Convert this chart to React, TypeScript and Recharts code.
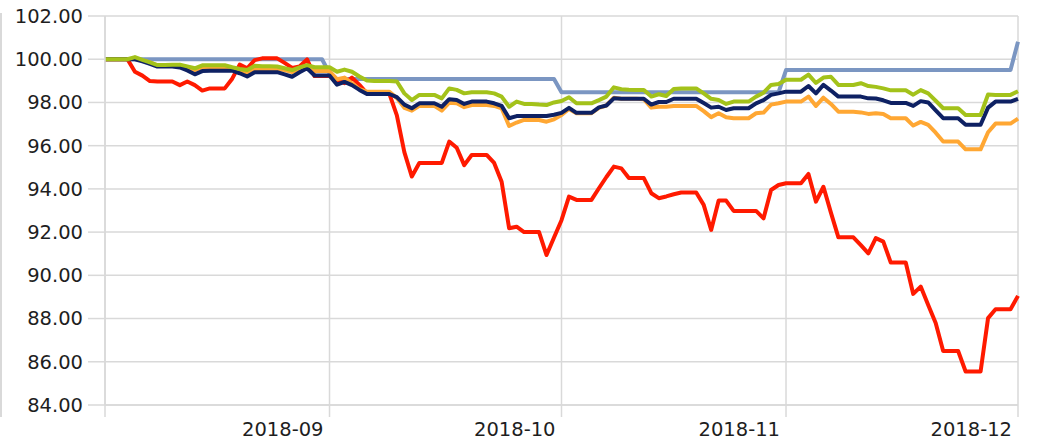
import React from 'react';
import { LineChart, Line, XAxis, YAxis, CartesianGrid } from 'recharts';

const dayIndex: number[] = Array.from({ length: 123 }, (_, i) => i);

const seriesRed = [
  100.0, 100.0, 100.0, 100.0, 99.42, 99.24, 98.99, 98.97, 98.97, 98.97,
  98.8, 98.97, 98.8, 98.55, 98.65, 98.65, 98.65, 99.1, 99.75, 99.58,
  99.96, 100.04, 100.04, 100.04, 99.83, 99.6, 99.66, 99.99, 99.22, 99.22,
  99.22, 99.04, 98.89, 99.15, 98.81, 98.42, 98.42, 98.42, 98.4, 97.4,
  95.7, 94.57, 95.2, 95.2, 95.2, 95.2, 96.19, 95.9, 95.1, 95.57,
  95.57, 95.57, 95.2, 94.33, 92.18, 92.25, 92.0, 92.0, 92.0, 90.94,
  91.75, 92.55, 93.64, 93.49, 93.49, 93.49, 94.03, 94.55, 95.03, 94.95,
  94.5, 94.5, 94.5, 93.8, 93.57, 93.65, 93.75, 93.83, 93.83, 93.83,
  93.26, 92.1, 93.46, 93.46, 92.98, 92.98, 92.98, 92.98, 92.64, 93.95,
  94.18, 94.26, 94.26, 94.26, 94.69, 93.41, 94.1, 92.9, 91.76, 91.76,
  91.76, 91.4, 91.02, 91.72, 91.56, 90.59, 90.59, 90.59, 89.14, 89.48,
  88.63, 87.79, 86.5, 86.5, 86.5, 85.55, 85.55, 85.55, 88.02, 88.43,
  88.43, 88.43, 89.05,
];

const seriesGreen = [
  100.0, 100.0, 100.0, 100.0, 100.1, 99.97, 99.85, 99.73, 99.73, 99.74,
  99.75, 99.67, 99.58, 99.72, 99.72, 99.72, 99.72, 99.63, 99.55, 99.5,
  99.7, 99.68, 99.67, 99.66, 99.58, 99.5, 99.62, 99.73, 99.63, 99.63,
  99.63, 99.42, 99.52, 99.42, 99.2, 99.02, 98.99, 98.99, 98.99, 98.97,
  98.42, 98.11, 98.35, 98.35, 98.35, 98.19, 98.65, 98.58, 98.42, 98.47,
  98.47, 98.47, 98.42, 98.27, 97.8, 98.04, 97.93, 97.93, 97.9, 97.88,
  98.0, 98.07, 98.24, 97.96, 97.96, 97.96, 98.11, 98.27, 98.7, 98.61,
  98.59, 98.58, 98.58, 98.27, 98.38, 98.3, 98.62, 98.65, 98.65, 98.65,
  98.42, 98.17, 98.11, 97.93, 98.04, 98.04, 98.04, 98.27, 98.45, 98.81,
  98.85, 99.05, 99.05, 99.05, 99.29, 98.9, 99.15, 99.19, 98.81, 98.81,
  98.81, 98.89, 98.76, 98.72, 98.65, 98.56, 98.56, 98.56, 98.36, 98.57,
  98.42, 98.08, 97.73, 97.73, 97.73, 97.42, 97.42, 97.42, 98.37, 98.35,
  98.35, 98.35, 98.52,
];

const seriesNavy = [
  100.0, 100.0, 100.0, 100.0, 100.0, 99.9, 99.78, 99.66, 99.66, 99.66,
  99.62, 99.48, 99.3, 99.45, 99.47, 99.47, 99.47, 99.47, 99.35, 99.2,
  99.4, 99.4, 99.4, 99.4, 99.3, 99.19, 99.4, 99.58, 99.25, 99.25,
  99.25, 98.82, 98.95, 98.8, 98.58, 98.39, 98.39, 98.39, 98.39, 98.25,
  97.9, 97.73, 97.96, 97.96, 97.96, 97.8, 98.15, 98.11, 97.93, 98.04,
  98.04, 98.04, 97.96, 97.84, 97.27, 97.37, 97.37, 97.37, 97.37, 97.37,
  97.43, 97.52, 97.75, 97.52, 97.52, 97.52, 97.77, 97.86, 98.19, 98.17,
  98.17, 98.17, 98.17, 97.9, 98.02, 98.02, 98.17, 98.17, 98.17, 98.17,
  97.97, 97.76, 97.8, 97.65, 97.73, 97.73, 97.73, 97.96, 98.11, 98.35,
  98.42, 98.5, 98.5, 98.5, 98.76, 98.42, 98.81, 98.55, 98.27, 98.27,
  98.27, 98.27, 98.19, 98.18, 98.1, 97.98, 97.98, 97.98, 97.84, 98.06,
  98.0, 97.63, 97.27, 97.27, 97.27, 96.97, 96.97, 96.97, 97.76, 98.04,
  98.04, 98.04, 98.17,
];

const seriesOrange = [
  100.0, 100.0, 100.0, 100.0, 100.02, 99.95, 99.85, 99.72, 99.72, 99.72,
  99.7, 99.6, 99.5, 99.62, 99.63, 99.63, 99.63, 99.6, 99.5, 99.38,
  99.55, 99.55, 99.55, 99.55, 99.5, 99.4, 99.55, 99.66, 99.45, 99.45,
  99.45, 99.07, 99.15, 98.88, 98.62, 98.5, 98.5, 98.5, 98.5, 98.2,
  97.75, 97.62, 97.84, 97.84, 97.84, 97.62, 97.99, 97.96, 97.78, 97.88,
  97.88, 97.88, 97.84, 97.73, 96.91, 97.07, 97.19, 97.19, 97.19, 97.11,
  97.22, 97.42, 97.7, 97.5, 97.5, 97.5, 97.75, 97.86, 98.22, 98.17,
  98.17, 98.17, 98.15, 97.76, 97.8, 97.8, 97.84, 97.84, 97.84, 97.84,
  97.6, 97.32, 97.5, 97.31, 97.27, 97.27, 97.27, 97.5, 97.53, 97.9,
  97.96, 98.04, 98.04, 98.04, 98.27, 97.84, 98.22, 97.93, 97.57, 97.57,
  97.57, 97.54, 97.47, 97.5, 97.47, 97.27, 97.27, 97.27, 96.93, 97.1,
  96.96, 96.6, 96.19, 96.19, 96.19, 95.83, 95.83, 95.83, 96.62, 97.02,
  97.02, 97.02, 97.25,
];

const seriesBlue = [
  100.0, 100.0, 100.0, 100.0, 100.0, 100.0, 100.0, 100.0, 100.0, 100.0,
  100.0, 100.0, 100.0, 100.0, 100.0, 100.0, 100.0, 100.0, 100.0, 100.0,
  100.0, 100.0, 100.0, 100.0, 100.0, 100.0, 100.0, 100.0, 100.0, 100.0,
  99.35, 99.08, 99.08, 99.08, 99.08, 99.08, 99.08, 99.08, 99.08, 99.08,
  99.08, 99.08, 99.08, 99.08, 99.08, 99.08, 99.08, 99.08, 99.08, 99.08,
  99.08, 99.08, 99.08, 99.08, 99.08, 99.08, 99.08, 99.08, 99.08, 99.08,
  99.08, 98.47, 98.47, 98.47, 98.47, 98.47, 98.47, 98.47, 98.47, 98.47,
  98.47, 98.47, 98.47, 98.47, 98.47, 98.47, 98.47, 98.47, 98.47, 98.47,
  98.47, 98.47, 98.47, 98.47, 98.47, 98.47, 98.47, 98.47, 98.47, 98.47,
  98.47, 99.5, 99.5, 99.5, 99.5, 99.5, 99.5, 99.5, 99.5, 99.5,
  99.5, 99.5, 99.5, 99.5, 99.5, 99.5, 99.5, 99.5, 99.5, 99.5,
  99.5, 99.5, 99.5, 99.5, 99.5, 99.5, 99.5, 99.5, 99.5, 99.5,
  99.5, 99.5, 100.81,
];

const yTicks = [84, 86, 88, 90, 92, 94, 96, 98, 100, 102];
const xTicks = [0, 30, 61, 91, 122];
const xTickLabels = ['', '2018-09', '2018-10', '2018-11', '2018-12'];

const data = dayIndex.map((d, i) => ({
  d,
  red: seriesRed[i],
  green: seriesGreen[i],
  navy: seriesNavy[i],
  orange: seriesOrange[i],
  blue: seriesBlue[i],
}));

const FONT = '"DejaVu Sans", Verdana, sans-serif';
const GRID = '#d9d9d9';
const TEXT = '#1e1e1e';

function XTick(props: any) {
  const { x, y, payload } = props;
  const idx = xTicks.indexOf(payload.value);
  const label = idx >= 0 ? xTickLabels[idx] : '';
  return (
    <text
      x={x - 6}
      y={y}
      dy="0.71em"
      textAnchor="end"
      fill={TEXT}
      fontFamily={FONT}
      fontSize={19.5}
    >
      {label}
    </text>
  );
}

export default function App() {
  return (
    <div style={{ position: 'absolute', left: 0, top: 0, width: 1038, height: 443, background: '#fff' }}>
      <div style={{ position: 'absolute', left: 0, top: 13, width: 1.5, height: 404, background: GRID }} />
      <LineChart
        width={1038}
        height={443}
        data={data}
        margin={{ top: 16, right: 20, left: 0, bottom: 0 }}
      >
        <CartesianGrid stroke={GRID} strokeWidth={1.5} />
        <XAxis
          dataKey="d"
          type="number"
          domain={[0, 122]}
          ticks={xTicks}
          interval={0}
          height={38}
          tickSize={12}
          tickMargin={5}
          axisLine={{ stroke: GRID, strokeWidth: 1.5 }}
          tickLine={{ stroke: GRID, strokeWidth: 1.5 }}
          tick={<XTick />}
        />
        <YAxis
          type="number"
          domain={[84, 102]}
          ticks={yTicks}
          interval={0}
          width={105}
          tickSize={17}
          tickMargin={5}
          axisLine={{ stroke: GRID, strokeWidth: 1.5 }}
          tickLine={{ stroke: GRID, strokeWidth: 1.5 }}
          tickFormatter={(v: number) => v.toFixed(2)}
          tick={{ fill: TEXT, fontFamily: FONT, fontSize: 19.5 }}
        />
        <Line type="linear" dataKey="blue" stroke="#7b96c2" strokeWidth={4} dot={false} isAnimationActive={false} strokeLinejoin="round" />
        <Line type="linear" dataKey="red" stroke="#ff1a00" strokeWidth={4} dot={false} isAnimationActive={false} strokeLinejoin="round" />
        <Line type="linear" dataKey="orange" stroke="#ffa733" strokeWidth={4} dot={false} isAnimationActive={false} strokeLinejoin="round" />
        <Line type="linear" dataKey="navy" stroke="#0e2163" strokeWidth={4} dot={false} isAnimationActive={false} strokeLinejoin="round" />
        <Line type="linear" dataKey="green" stroke="#a3c21a" strokeWidth={4} dot={false} isAnimationActive={false} strokeLinejoin="round" />
      </LineChart>
    </div>
  );
}
